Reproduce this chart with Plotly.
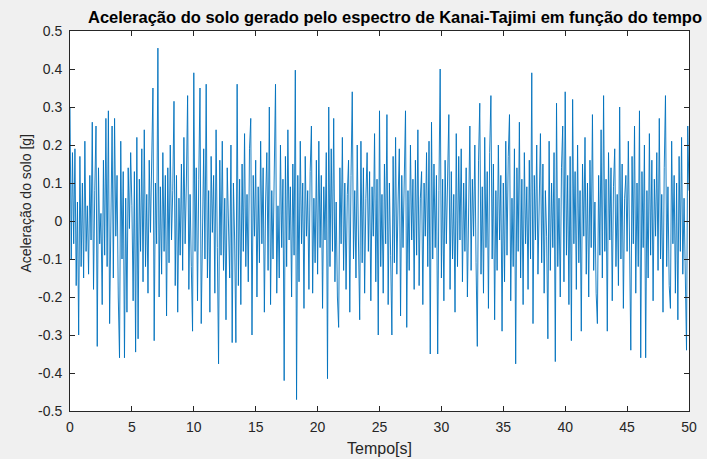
import numpy as np
import plotly.graph_objects as go

# Ground acceleration samples [g], one row per second (dt = 0.1 s)
dt = 0.1
accel = [
    0.30, -0.10, 0.18, -0.06, 0.19, -0.17, 0.05, -0.30, 0.17, -0.12,
    0.10, -0.15, 0.21, -0.08, 0.04, -0.14, 0.12, -0.05, 0.26, -0.18,
    0.08, 0.25, -0.33, 0.14, -0.06, 0.02, -0.22, 0.16, -0.09, 0.27,
    -0.12, 0.29, -0.27, 0.06, 0.25, -0.15, 0.27, -0.04, 0.12, -0.20,
    -0.36, 0.21, -0.10, 0.13, -0.36, 0.06, -0.24, 0.14, -0.02, 0.18,
    0.04, -0.21, 0.13, -0.345, 0.22, -0.31, 0.11, -0.08, 0.19, -0.16,
    0.24, -0.12, 0.07, -0.19, 0.16, -0.03, 0.21, 0.35, -0.315, 0.10,
    -0.06, 0.455, -0.20, 0.09, -0.14, 0.18, -0.08, 0.12, -0.25, 0.14,
    -0.11, 0.20, -0.05, 0.08, 0.315, -0.17, 0.12, -0.24, 0.06, -0.09,
    0.15, -0.13, 0.22, -0.06, 0.10, 0.33, -0.18, 0.07, -0.12, -0.29,
    0.39, -0.08, 0.14, -0.21, 0.11, 0.35, -0.27, 0.05, 0.19, -0.10,
    0.36, -0.15, 0.08, -0.24, 0.17, -0.03, 0.12, -0.19, 0.24, -0.07,
    -0.376, 0.16, -0.09, 0.21, -0.13, 0.06, -0.26, 0.14, 0.02, -0.15,
    0.20, -0.32, 0.10, -0.05, -0.32, 0.36, -0.17, 0.11, -0.22, 0.15,
    -0.08, 0.23, -0.12, 0.07, -0.16, 0.19, 0.27, -0.30, 0.12, -0.04,
    0.16, -0.20, 0.09, -0.11, 0.21, -0.06, 0.14, -0.24, 0.05, 0.18,
    -0.13, 0.30, -0.22, 0.08, -0.10, 0.13, 0.36, -0.19, 0.04, -0.15,
    0.20, -0.07, 0.11, -0.42, 0.17, -0.12, 0.24, -0.05, 0.09, -0.20,
    0.15, -0.09, 0.397, -0.47, 0.12, -0.16, 0.21, -0.06, 0.10, -0.23,
    0.17, -0.04, 0.08, -0.18, 0.13, 0.25, -0.19, 0.06, -0.11, 0.16,
    -0.14, 0.21, -0.07, 0.12, -0.23, 0.09, -0.05, 0.18, -0.415, 0.30,
    -0.12, 0.19, -0.08, 0.27, -0.16, 0.05, -0.20, -0.28, 0.14, -0.06,
    0.22, -0.13, 0.10, -0.18, 0.07, 0.16, -0.24, 0.12, 0.34, -0.10,
    0.08, -0.15, 0.20, -0.05, -0.26, 0.21, -0.11, 0.14, -0.19, 0.06,
    0.18, -0.08, 0.13, -0.21, 0.09, -0.04, 0.23, -0.16, 0.11, -0.30,
    0.29, -0.12, 0.07, -0.19, 0.15, -0.06, 0.28, -0.22, 0.10, -0.09,
    -0.30, 0.17, -0.11, 0.22, -0.14, 0.05, 0.19, -0.25, 0.12, -0.07,
    0.14, 0.29, -0.28, 0.08, -0.13, 0.20, -0.05, 0.11, -0.18, 0.16,
    -0.09, 0.24, -0.17, 0.06, 0.13, -0.22, 0.10, -0.04, 0.18, -0.12,
    0.21, -0.35, 0.26, -0.10, 0.15, -0.07, 0.12, -0.35, 0.08, 0.40,
    -0.15, 0.11, -0.21, 0.16, -0.06, 0.09, 0.28, -0.18, 0.13, -0.10,
    0.07, -0.24, 0.23, -0.12, 0.17, -0.05, 0.19, -0.16, 0.10, -0.08,
    0.14, -0.20, 0.06, 0.25, -0.13, 0.11, -0.04, 0.20, -0.11, -0.33,
    0.16, 0.31, -0.14, 0.09, -0.19, 0.22, -0.07, 0.13, -0.23, 0.18,
    0.33, -0.10, 0.15, -0.26, 0.08, -0.13, 0.20, -0.05, 0.12, -0.29,
    0.10, -0.16, 0.21, -0.09, 0.17, 0.28, -0.21, 0.06, -0.12, 0.19,
    -0.376, 0.14, -0.08, 0.26, -0.15, 0.11, -0.22, 0.18, -0.06, 0.09,
    -0.18, 0.16, -0.10, 0.39, -0.27, 0.12, -0.05, 0.20, -0.14, 0.07,
    0.23, -0.11, 0.15, -0.19, 0.08, -0.04, -0.31, 0.21, -0.13, 0.10,
    -0.07, 0.18, -0.37, 0.31, -0.12, 0.06, -0.20, 0.14, 0.25, -0.16,
    0.34, -0.09, 0.12, -0.22, 0.17, -0.315, 0.32, -0.06, 0.13, -0.18,
    0.20, -0.11, 0.08, -0.29, 0.15, -0.04, 0.22, -0.14, 0.10, -0.20,
    0.16, -0.07, 0.28, -0.13, 0.05, -0.19, -0.27, 0.12, -0.09, 0.24,
    -0.15, 0.33, -0.08, 0.11, -0.29, 0.18, -0.05, 0.14, -0.21, 0.09,
    0.19, -0.12, 0.07, -0.17, 0.30, -0.10, 0.15, -0.23, 0.06, 0.12,
    -0.08, 0.21, -0.14, -0.34, 0.17, -0.06, 0.25, -0.19, 0.10, -0.12,
    0.29, -0.36, 0.13, -0.07, 0.20, -0.36, 0.08, -0.15, 0.23, -0.09,
    0.16, -0.21, 0.11, -0.04, 0.18, -0.13, 0.27, -0.10, 0.07, -0.24,
    0.14, 0.33, -0.12, 0.09, -0.17, -0.23, 0.21, -0.06, 0.12, -0.19,
    0.10, -0.26, 0.17, -0.08, 0.22, -0.14, 0.06, -0.11, -0.34, 0.25,
    0.08,
]
time = np.arange(len(accel)) * dt

x_ticks = [0, 5, 10, 15, 20, 25, 30, 35, 40, 45, 50]
y_ticks = [-0.5, -0.4, -0.3, -0.2, -0.1, 0, 0.1, 0.2, 0.3, 0.4, 0.5]
y_tick_labels = ["-0.5", "-0.4", "-0.3", "-0.2", "-0.1", "0",
                 "0.1", "0.2", "0.3", "0.4", "0.5"]

FONT = "Liberation Sans, Arial, sans-serif"
W, H = 707, 459
L, R, T, B = 70, 10, 31, 48

fig = go.Figure()
fig.add_trace(go.Scatter(
    x=time, y=accel, mode="lines",
    line=dict(color="#0072BD", width=0.9),
    hoverinfo="skip",
))

axis_common = dict(
    showline=True, mirror="ticks", linecolor="#262626", linewidth=1,
    ticks="inside", ticklen=5, tickcolor="#262626", tickwidth=1,
    showgrid=False, zeroline=False,
    tickfont=dict(family=FONT, size=14, color="#262626"),
)

plot_w = W - L - R
plot_h = H - T - B

fig.update_layout(
    width=W, height=H,
    margin=dict(l=L, r=R, t=T, b=B),
    paper_bgcolor="#f0f0f0", plot_bgcolor="white",
    showlegend=False,
    title=dict(
        text="<b>Aceleração do solo gerado pelo espectro de Kanai-Tajimi em função do tempo</b>",
        x=395 / W, xanchor="center", y=1 - 17 / H, yanchor="middle",
        font=dict(family=FONT, size=16.5, color="black"),
    ),
    xaxis=dict(range=[0, 50], tickvals=x_ticks, ticklabelstandoff=3, **axis_common),
    yaxis=dict(range=[-0.5, 0.5], tickvals=y_ticks, ticktext=y_tick_labels,
               ticklabelstandoff=4, **axis_common),
    annotations=[
        dict(text="Tempo[s]", xref="paper", yref="paper",
             x=0.5, y=-(448 - (H - B)) / plot_h, xanchor="center", yanchor="middle",
             showarrow=False, font=dict(family=FONT, size=16, color="#262626")),
        dict(text="Aceleração do solo [g]", xref="paper", yref="paper",
             x=(25 - L) / plot_w, y=(H - B - 203) / plot_h, xanchor="center", yanchor="middle",
             textangle=-90, showarrow=False, font=dict(family=FONT, size=14, color="#262626")),
    ],
)

fig.write_html("out.html")
